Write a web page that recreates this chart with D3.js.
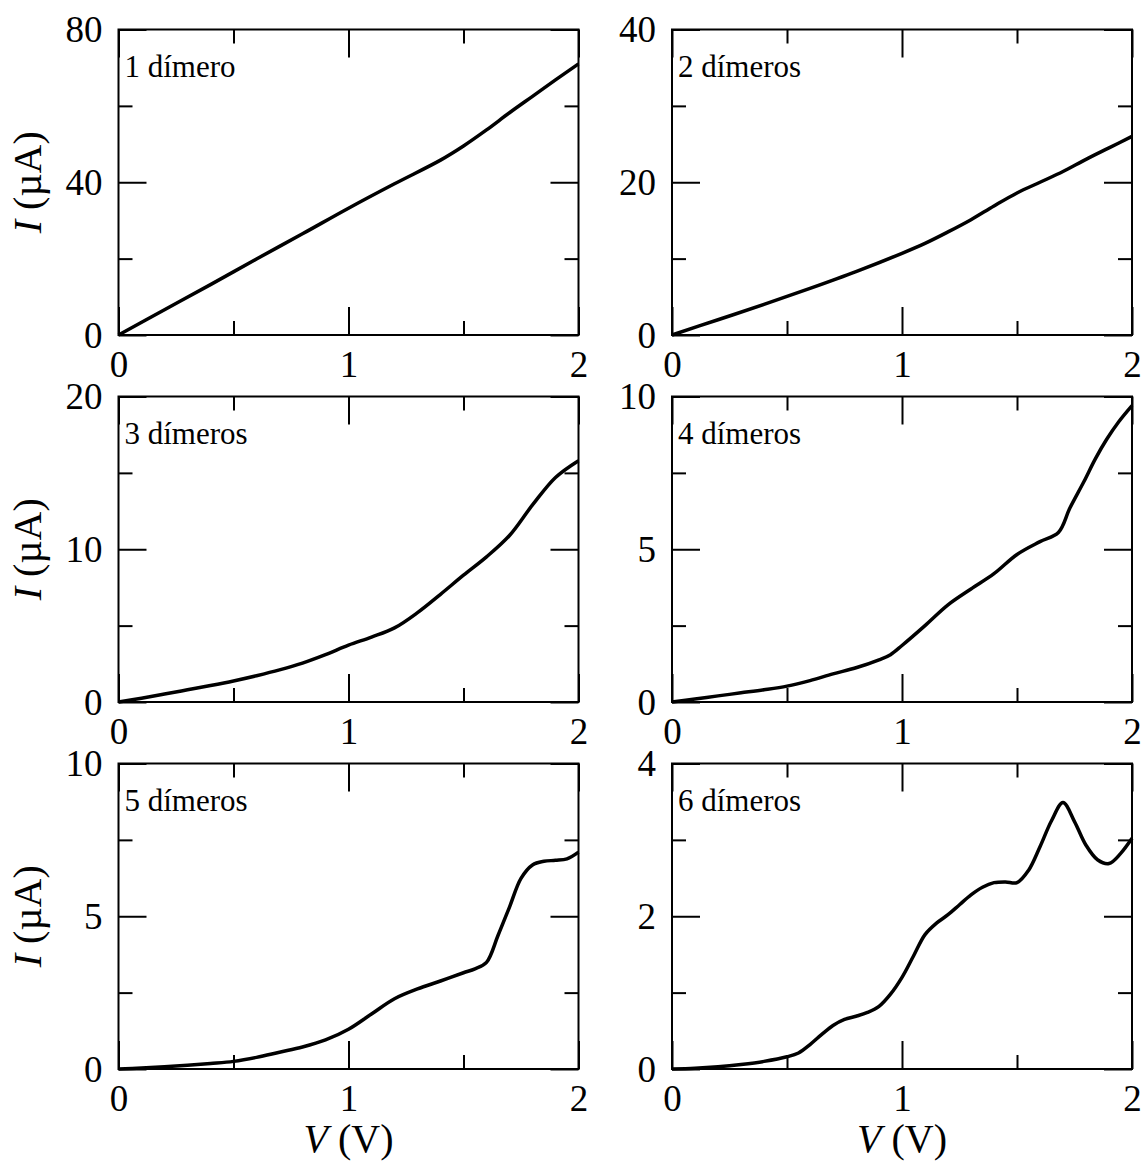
<!DOCTYPE html>
<html>
<head>
<meta charset="utf-8">
<script src="https://cdn.jsdelivr.net/npm/d3@7"></script>
<style>
  body { margin: 0; background: #fff; }
  svg { display: block; font-family: "Liberation Serif", "DejaVu Serif", serif; }
</style>
</head>
<body>
<svg id="chart" width="1146" height="1162"></svg>
<script>
// voltage samples (V) and current (uA) per panel
const v1 = [0, 0.2, 0.4, 0.6, 0.8, 1.0, 1.2, 1.4, 1.5, 1.6, 1.7, 1.8, 1.9, 2.0];
const i1 = [0, 6.6, 13.2, 19.9, 26.5, 33.2, 39.6, 45.8, 49.5, 53.7, 58.2, 62.5, 66.8, 71];

const v2 = [0, 0.2, 0.4, 0.6, 0.8, 1.0, 1.1, 1.2, 1.3, 1.4, 1.5, 1.6, 1.7, 1.8, 1.9, 2.0];
const i2 = [0, 2.0, 4.0, 6.1, 8.3, 10.7, 12.0, 13.5, 15.1, 16.9, 18.6, 20.0, 21.4, 23.0, 24.5, 26.0];

const v3 = [0, 0.1, 0.2, 0.3, 0.4, 0.5, 0.6, 0.7, 0.8, 0.9, 1.0, 1.1, 1.2, 1.3, 1.4, 1.5, 1.6, 1.7, 1.8, 1.9, 2.0];
const i3 = [0, 0.25, 0.52, 0.8, 1.08, 1.38, 1.72, 2.1, 2.55, 3.1, 3.72, 4.25, 4.85, 5.85, 7.05, 8.3, 9.5, 10.9, 12.9, 14.7, 15.8];

const v4 = [0, 0.1, 0.2, 0.3, 0.4, 0.5, 0.6, 0.7, 0.8, 0.9, 0.95, 1.0, 1.1, 1.2, 1.3, 1.4, 1.5, 1.6, 1.68, 1.73, 1.79, 1.84, 1.89, 1.94, 2.0];
const i4 = [0, 0.1, 0.2, 0.3, 0.4, 0.52, 0.7, 0.92, 1.12, 1.38, 1.55, 1.85, 2.5, 3.18, 3.7, 4.2, 4.83, 5.25, 5.55, 6.35, 7.2, 7.95, 8.6, 9.15, 9.7];

const v5 = [0, 0.1, 0.2, 0.3, 0.4, 0.5, 0.6, 0.7, 0.8, 0.9, 1.0, 1.1, 1.2, 1.3, 1.4, 1.5, 1.55, 1.6, 1.65, 1.7, 1.75, 1.8, 1.85, 1.9, 1.95, 2.0];
const i5 = [0, 0.03, 0.07, 0.12, 0.18, 0.25, 0.38, 0.55, 0.72, 0.95, 1.3, 1.8, 2.3, 2.62, 2.88, 3.15, 3.28, 3.49, 4.37, 5.3, 6.24, 6.68, 6.8, 6.83, 6.88, 7.1];

const v6 = [0, 0.1, 0.2, 0.3, 0.4, 0.5, 0.55, 0.6, 0.65, 0.7, 0.75, 0.8, 0.85, 0.9, 0.95, 1.0, 1.05, 1.1, 1.15, 1.2, 1.25, 1.3, 1.35, 1.4, 1.45, 1.5, 1.55, 1.6, 1.65, 1.7, 1.75, 1.8, 1.85, 1.9, 1.95, 2.0];
const i6 = [0, 0.01, 0.03, 0.06, 0.1, 0.16, 0.21, 0.32, 0.45, 0.57, 0.65, 0.69, 0.74, 0.82, 0.98, 1.2, 1.48, 1.76, 1.91, 2.02, 2.15, 2.28, 2.38, 2.44, 2.45, 2.44, 2.6, 2.91, 3.25, 3.49, 3.24, 2.93, 2.74, 2.69, 2.82, 3.02];

const labels = ['1 dímero', '2 dímeros', '3 dímeros', '4 dímeros', '5 dímeros', '6 dímeros'];
const yMax = [80, 40, 20, 10, 10, 4];
const xMajor = [0, 1, 2];
const xMinor = [0.5, 1.5];

const series = [[v1, i1], [v2, i2], [v3, i3], [v4, i4], [v5, i5], [v6, i6]];

const colLeft = [118.5, 672];
const rowTop = [29.5, 396.5, 763.5];
const W = 460, H = 305.5;
const serif = '"Liberation Serif", "DejaVu Serif", serif';

const svg = d3.select('#chart');

series.forEach(([vs, is], k) => {
  const col = k % 2, row = Math.floor(k / 2);
  const g = svg.append('g').attr('transform', `translate(${colLeft[col]},${rowTop[row]})`);
  const x = d3.scaleLinear().domain([0, 2]).range([0, W]);
  const y = d3.scaleLinear().domain([0, yMax[k]]).range([H, 0]);
  const yMaj = [0, yMax[k] / 2, yMax[k]];
  const yMin = [yMax[k] / 4, yMax[k] * 3 / 4];

  // ticks on all four sides, pointing in
  const addAxis = (axis, tr, showText) => {
    const a = g.append('g').attr('transform', tr).call(axis);
    a.attr('font-family', null).attr('font-size', null);
    a.select('.domain').remove();
    a.selectAll('.tick line').attr('stroke', '#000').attr('stroke-width', 2);
    a.selectAll('text').style('font-size', '37px').style('font-family', serif).attr('fill', '#000');
    if (!showText) a.selectAll('text').remove();
    return a;
  };
  addAxis(d3.axisBottom(x).tickValues(xMajor).tickSize(-28).tickPadding(16).tickFormat(d3.format('d')), `translate(0,${H})`, true);
  addAxis(d3.axisBottom(x).tickValues(xMinor).tickSize(-14), `translate(0,${H})`, false);
  addAxis(d3.axisTop(x).tickValues(xMajor).tickSize(-28), 'translate(0,0)', false);
  addAxis(d3.axisTop(x).tickValues(xMinor).tickSize(-14), 'translate(0,0)', false);
  const ya = addAxis(d3.axisLeft(y).tickValues(yMaj).tickSize(-28).tickPadding(16).tickFormat(d3.format('d')), 'translate(0,0)', true);
  ya.selectAll('text').attr('dy', '0.33em');
  addAxis(d3.axisLeft(y).tickValues(yMin).tickSize(-14), 'translate(0,0)', false);
  addAxis(d3.axisRight(y).tickValues(yMaj).tickSize(-28), `translate(${W},0)`, false);
  addAxis(d3.axisRight(y).tickValues(yMin).tickSize(-14), `translate(${W},0)`, false);

  g.append('rect')
    .attr('width', W).attr('height', H)
    .attr('fill', 'none').attr('stroke', '#000').attr('stroke-width', 2);

  const line = d3.line()
    .x((d, i) => x(vs[i]))
    .y(d => y(d))
    .curve(d3.curveCatmullRom.alpha(0.5));
  g.append('path')
    .attr('d', line(is))
    .attr('fill', 'none').attr('stroke', '#000').attr('stroke-width', 3.5)
    .attr('stroke-linejoin', 'round');

  g.append('text')
    .attr('x', 6).attr('y', 47)
    .style('font-size', '31px')
    .text(labels[k]);

  if (col === 0) {
    const t = svg.append('text')
      .attr('transform', `translate(41,${rowTop[row] + H / 2}) rotate(-90)`)
      .attr('text-anchor', 'middle')
      .style('font-size', '40px');
    t.append('tspan').attr('font-style', 'italic').text('I');
    t.append('tspan').text(' (µA)');
  }
  if (row === 2) {
    const t = svg.append('text')
      .attr('x', colLeft[col] + W / 2).attr('y', 1152)
      .attr('text-anchor', 'middle')
      .style('font-size', '40px');
    t.append('tspan').attr('font-style', 'italic').text('V');
    t.append('tspan').text(' (V)');
  }
});
</script>
</body>
</html>
